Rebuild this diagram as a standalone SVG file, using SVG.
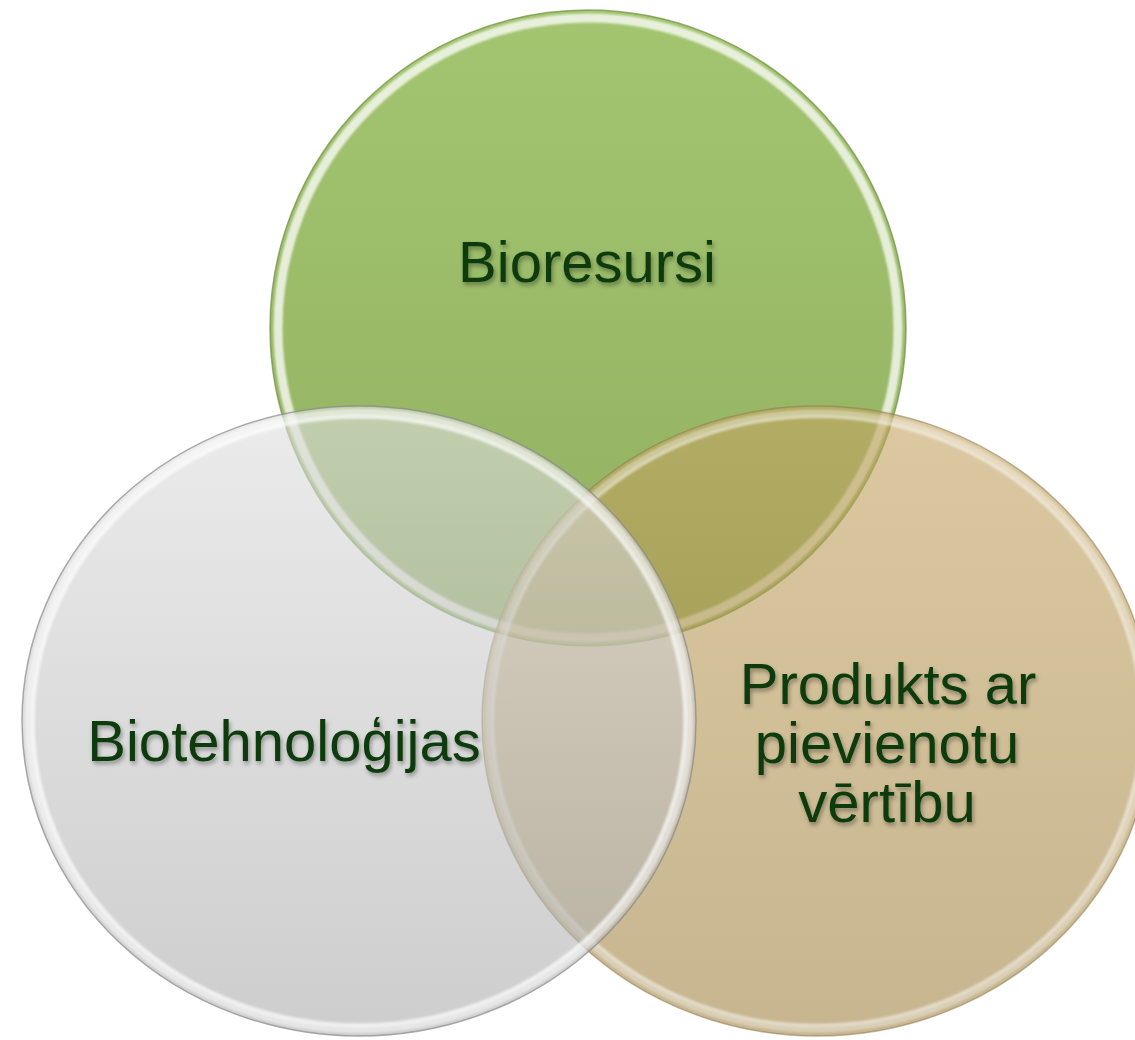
<svg xmlns="http://www.w3.org/2000/svg" width="1135" height="1040" viewBox="0 0 1135 1040">
<defs>
<linearGradient id="gGreen" x1="0" y1="0" x2="0" y2="1">
<stop offset="0" stop-color="#a3c570"/>
<stop offset="1" stop-color="#91b061"/>
</linearGradient>
<linearGradient id="gTan" x1="0" y1="0" x2="0" y2="1">
<stop offset="0" stop-color="#c4a462"/>
<stop offset="1" stop-color="#a08444"/>
</linearGradient>
<linearGradient id="gGrey" x1="0" y1="0" x2="0" y2="1">
<stop offset="0" stop-color="#dedede"/>
<stop offset="1" stop-color="#acacac"/>
</linearGradient>
<linearGradient id="rimGreen" x1="0" y1="0" x2="1" y2="0">
<stop offset="0" stop-color="#cdf08f"/>
<stop offset="0.5" stop-color="#b2d27e"/>
<stop offset="1" stop-color="#d0ee90"/>
</linearGradient>
<filter id="txtShadow" x="-10%" y="-20%" width="120%" height="150%">
<feDropShadow dx="1.5" dy="3" stdDeviation="2" flood-color="#000" flood-opacity="0.35"/>
</filter>
<filter id="soft" x="-5%" y="-5%" width="110%" height="110%">
<feGaussianBlur stdDeviation="1"/>
</filter>
</defs>
<style>
.lbl{font-family:"Liberation Sans",Arial,sans-serif;font-size:58px;fill:#0a3b08;text-anchor:middle;filter:url(#txtShadow)}
.edge{fill:none;stroke-width:1.5}
.rim{fill:none;stroke:#ffffff;filter:url(#soft)}
</style>

<g id="node-bioresursi">
<ellipse cx="588" cy="328" rx="318" ry="318" fill="url(#gGreen)"/>
<ellipse class="rim" cx="588" cy="328" rx="310" ry="310" stroke="url(#rimGreen)" stroke-width="9" opacity="0.75"/>
<ellipse class="edge" cx="588" cy="328" rx="318" ry="318" stroke="#6f8f40" opacity="0.7"/>
<text class="lbl" x="587" y="282">Bioresursi</text>
</g>

<g id="node-produkts">
<ellipse cx="817" cy="721" rx="335" ry="315" fill="url(#gTan)" fill-opacity="0.6"/>
<ellipse class="rim" cx="817" cy="721" rx="327" ry="307" stroke="#fff4d0" stroke-width="9" opacity="0.35"/>
<ellipse class="rim" cx="817" cy="721" rx="325" ry="305" stroke-width="2.5" opacity="0.3"/>
<ellipse class="edge" cx="817" cy="721" rx="335" ry="315" stroke="#8f7a50" opacity="0.55"/>
<text class="lbl" x="888" y="704">Produkts ar</text>
<text class="lbl" x="887" y="763">pievienotu</text>
<text class="lbl" x="887" y="822">vērtību</text>
</g>

<g id="node-biotehnologijas">
<ellipse cx="359" cy="721" rx="337" ry="315" fill="url(#gGrey)" fill-opacity="0.6"/>
<ellipse class="rim" cx="359" cy="721" rx="329" ry="307" stroke-width="10" opacity="0.5"/>
<ellipse class="rim" cx="359" cy="721" rx="327" ry="305" stroke-width="3" opacity="0.45"/>
<ellipse class="edge" cx="359" cy="721" rx="337" ry="315" stroke="#888888" opacity="0.7"/>
<text class="lbl" x="284" y="761">Biotehnoloģijas</text>
</g>
</svg>
